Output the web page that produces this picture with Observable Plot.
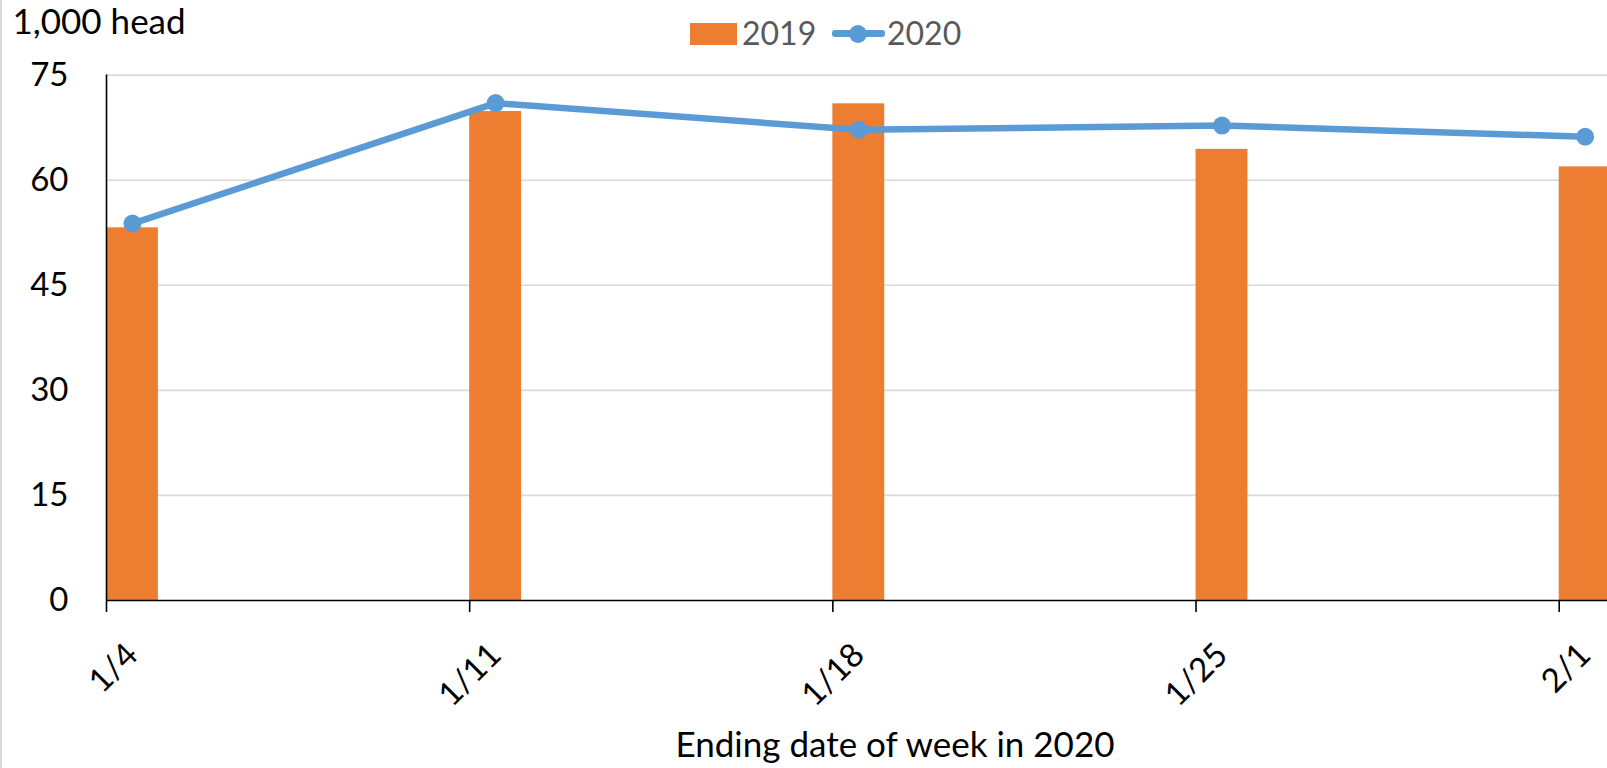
<!DOCTYPE html>
<html>
<head>
<meta charset="utf-8">
<script src="https://cdn.jsdelivr.net/npm/d3@7"></script>
<script src="https://cdn.jsdelivr.net/npm/@observablehq/plot@0.6"></script>
<style>
  body { margin: 0; background: #fff; font-family: Lato, "Open Sans", sans-serif; }
  #wrap { position: relative; width: 1607px; height: 768px; overflow: hidden; }
  #wrap svg { position: absolute; left: 0; top: 0; }
  .abs { position: absolute; }
  .lt { position: absolute; font-size: 32px; line-height: 32px; color: #595959; font-family: Lato, sans-serif; white-space: nowrap; }
</style>
</head>
<body>
<div id="wrap"></div>
<script>
// ---- data ----
const weeks = ["2020-01-04", "2020-01-11", "2020-01-18", "2020-01-25", "2020-02-01"];
const weekLabels = ["1/4", "1/11", "1/18", "1/25", "2/1"];
const values2019 = [53.2, 69.8, 70.9, 64.4, 61.9];
const values2020 = [53.8, 71.0, 67.2, 67.8, 66.2];
const yTicks = [0, 15, 30, 45, 60, 75];
const seriesNames = ["2019", "2020"];
const yLabel = "1,000 head";
const xTitle = "Ending date of week in 2020";

const orange = "#ED7D31";
const blue = "#5B9BD5";

const data = weeks.map((w, i) => {
  const date = new Date(w + "T00:00Z");
  return {
    date,
    end: d3.utcDay.offset(date, 1),
    mid: d3.utcHour.offset(date, 12),
    label: weekLabels[i],
    v2019: values2019[i],
    v2020: values2020[i]
  };
});
const dates = data.map(d => d.date);

const chart = Plot.plot({
  width: 1607,
  height: 768,
  marginLeft: 106,
  marginRight: 0,
  marginTop: 74.6,
  marginBottom: 168,
  style: { fontFamily: "Lato, sans-serif", fontSize: "32px", color: "#000", background: "transparent" },
  x: { type: "utc", domain: [dates[0], new Date("2020-02-01T22:20Z")] },
  y: { domain: [0, 75] },
  marks: [
    Plot.ruleY(yTicks.filter(v => v > 0), { stroke: "#d9d9d9", strokeWidth: 1.6 }),
    Plot.rectY(data, { x1: "date", x2: "end", y: "v2019", fill: orange }),
    Plot.ruleY([0], { stroke: "#000", strokeWidth: 1.6 }),
    Plot.ruleX([dates[0]], { stroke: "#000", strokeWidth: 1.6 }),
    Plot.axisX({ ticks: dates, tickSize: 12, tickFormat: () => "", stroke: "#000", strokeWidth: 1.6, label: null }),
    Plot.axisY({ ticks: yTicks, tickSize: 0, tickPadding: 38, label: null, fontSize: 33, fill: "#000" }),
    Plot.line(data, { x: "mid", y: "v2020", stroke: blue, strokeWidth: 6.5, strokeLinejoin: "round", strokeLinecap: "round" }),
    Plot.dot(data, { x: "mid", y: "v2020", r: 9, fill: blue, stroke: null }),
    Plot.text(data, { x: "mid", text: "label", frameAnchor: "bottom", dy: 49, rotate: -45, textAnchor: "end", lineAnchor: "middle", fontSize: 33, fill: "#000" }),
    Plot.text([xTitle], { frameAnchor: "bottom", dx: 38, dy: 145, lineAnchor: "middle", fontSize: 35, fill: "#000" }),
    Plot.text([yLabel], { frameAnchor: "top-left", dx: -94, dy: -52, textAnchor: "start", lineAnchor: "middle", fontSize: 35, fill: "#000" })
  ]
});

const wrap = document.getElementById("wrap");
wrap.appendChild(chart);

// left border of chart area
const border = document.createElement("div");
border.className = "abs";
Object.assign(border.style, { left: "0px", top: "0px", width: "2px", height: "768px", background: "#d9d9d9" });
wrap.appendChild(border);

// legend
const legend = [
  { cls: "abs", style: { left: "690px", top: "23px", width: "47px", height: "22px", background: orange } },
  { cls: "lt", text: seriesNames[0], style: { left: "742px", top: "16.6px" } },
  { cls: "abs", style: { left: "832px", top: "30.4px", width: "53px", height: "6.5px", background: blue, borderRadius: "3px" } },
  { cls: "abs", style: { left: "849px", top: "24.7px", width: "18px", height: "18px", background: blue, borderRadius: "50%" } },
  { cls: "lt", text: seriesNames[1], style: { left: "887px", top: "16.6px" } }
];
legend.forEach(l => {
  const el = document.createElement("div");
  el.className = l.cls;
  if (l.text) el.textContent = l.text;
  Object.assign(el.style, l.style);
  wrap.appendChild(el);
});
</script>
</body>
</html>
